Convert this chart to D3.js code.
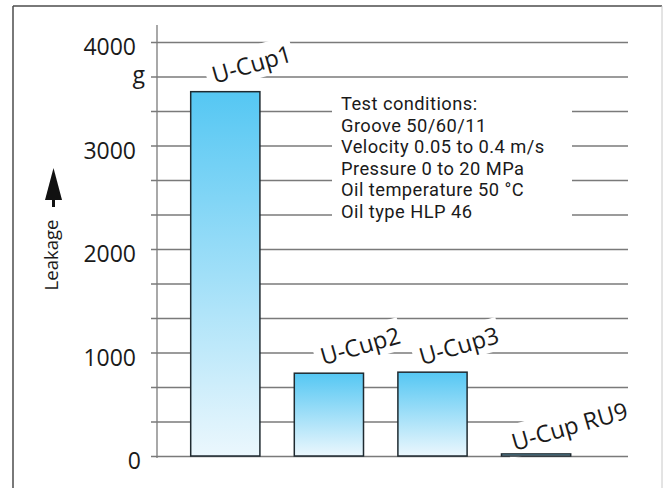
<!DOCTYPE html>
<html>
<head>
<meta charset="utf-8">
<script src="https://cdn.jsdelivr.net/npm/d3@7"></script>
<style>
  html, body { margin: 0; padding: 0; background: #fff; }
  svg { display: block; font-family: "Open Sans", "Noto Sans", sans-serif; }
</style>
</head>
<body>
<svg id="chart" width="663" height="488"></svg>
<script>
// Leakage per seal type
const categories = ["U-Cup1", "U-Cup2", "U-Cup3", "U-Cup RU9"];
const leakage = [3520, 800, 810, 20];

// Horizontal rules every third of a thousand, with their labels
const gridValues = [0, 333.33, 666.67, 1000, 1333.33, 1666.67, 2000, 2333.33, 2666.67, 3000, 3333.33, 3666.67, 4000];
const tickLabels = ["0", "", "", "1000", "", "", "2000", "", "", "3000", "", "g", "4000"];

const conditions = [
  "Test conditions:",
  "Groove 50/60/11",
  "Velocity 0.05 to 0.4 m/s",
  "Pressure 0 to 20 MPa",
  "Oil temperature 50 °C",
  "Oil type HLP 46"
];

const svg = d3.select("#chart");

const gridLeft = 151, gridRight = 628, axisX = 157;
const y = d3.scaleLinear().domain([0, 4000]).range([456, 42]);
const x = d3.scaleBand().domain(categories).range([190.7, 570.7]).paddingInner(0.332).paddingOuter(0);

// bar fill: saturated sky blue fading to near white
const defs = svg.append("defs");
const grad = defs.append("linearGradient").attr("id", "barFill")
  .attr("x1", 0).attr("y1", 0).attr("x2", 0).attr("y2", 1);
grad.append("stop").attr("offset", "0%").attr("stop-color", "#55c7f3");
grad.append("stop").attr("offset", "100%").attr("stop-color", "#ebf7fd");

// frame
svg.append("line").attr("x1", 13).attr("y1", 6).attr("x2", 662).attr("y2", 6)
  .attr("stroke", "#4d4d4d").attr("stroke-width", 1.5);
svg.append("line").attr("x1", 13).attr("y1", 6).attr("x2", 13).attr("y2", 488)
  .attr("stroke", "#4d4d4d").attr("stroke-width", 1.5);
svg.append("line").attr("x1", 662).attr("y1", 6).attr("x2", 662).attr("y2", 488)
  .attr("stroke", "#c8c8c8").attr("stroke-width", 1);

// grid rules
const grid = svg.append("g").attr("transform", `translate(${gridLeft},0)`)
  .call(d3.axisRight(y).tickValues(gridValues).tickSize(gridRight - gridLeft).tickFormat(""));
grid.select(".domain").remove();
grid.selectAll(".tick line").attr("stroke", "#7a7a7a").attr("stroke-width", 1.3);

// tick labels
const labelAxis = svg.append("g").attr("transform", `translate(${gridLeft},0)`)
  .call(d3.axisLeft(y).tickValues(gridValues).tickSize(0).tickPadding(15)
    .tickFormat((d, i) => tickLabels[i]));
labelAxis.select(".domain").remove();
labelAxis.selectAll(".tick text")
  .attr("font-family", "'Open Sans', sans-serif")
  .attr("font-size", 23)
  .attr("fill", "#1a1a1a")
  .attr("dy", (d, i) => tickLabels[i] === "g" ? "0.28em" : "0.55em")
  .attr("dx", (d, i) => tickLabels[i] === "g" ? 9 : (tickLabels[i] === "0" ? 5 : 0));

// vertical axis line
svg.append("line").attr("x1", axisX).attr("x2", axisX).attr("y1", 25).attr("y2", 458)
  .attr("stroke", "#7a7a7a").attr("stroke-width", 1.3);

// y-axis title with arrow
svg.append("path")
  .attr("d", "M53.5,168 L45,200 L62,200 Z")
  .attr("fill", "#111");
svg.append("rect").attr("x", 52).attr("y", 198).attr("width", 3).attr("height", 9).attr("fill", "#111");
svg.append("text")
  .attr("transform", "translate(58,255) rotate(-90)")
  .attr("text-anchor", "middle")
  .attr("font-size", 18.5)
  .attr("fill", "#1a1a1a")
  .text("Leakage");

// test conditions block on a white panel
svg.append("rect").attr("x", 332).attr("y", 94).attr("width", 240).attr("height", 128).attr("fill", "#fff");
svg.append("g").selectAll("text").data(conditions).join("text")
  .attr("x", 341)
  .attr("y", (d, i) => 110 + i * 21.6)
  .attr("font-family", "Roboto, sans-serif")
  .attr("font-size", 18.3)
  .attr("letter-spacing", 0.45)
  .attr("fill", "#1a1a1a")
  .text(d => d);

// bar names, slanted, each on a white knockout
const labelDx = [24, 29, 24, 13];
const labelDy = [8, 8, 7, 3];
const labels = svg.append("g");
categories.forEach((c, i) => {
  const g = labels.append("g")
    .attr("transform", `translate(${x(c) + labelDx[i]},${y(leakage[i]) - labelDy[i]}) rotate(-16)`);
  const t = g.append("text").attr("font-size", 23.5).attr("fill", "#1a1a1a").text(c);
  const bb = t.node().getBBox();
  g.insert("rect", "text")
    .attr("x", bb.x - 6).attr("y", bb.y - 1)
    .attr("width", bb.width + 8).attr("height", bb.height + 1)
    .attr("fill", "#fff");
});

// bars
svg.append("g").selectAll("rect").data(categories).join("rect")
  .attr("x", d => x(d))
  .attr("width", x.bandwidth())
  .attr("y", (d, i) => y(leakage[i]))
  .attr("height", (d, i) => y(0) - y(leakage[i]))
  .attr("fill", "url(#barFill)")
  .attr("stroke", "#1f2a30")
  .attr("stroke-width", 1.5);
</script>
</body>
</html>
